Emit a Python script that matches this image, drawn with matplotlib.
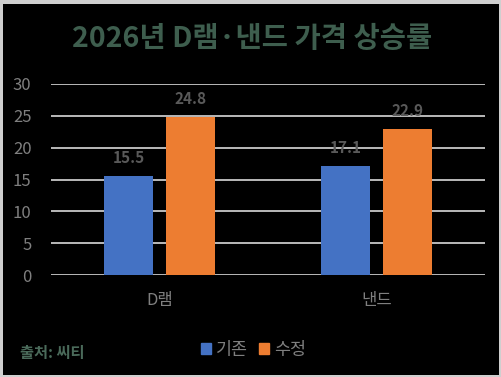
import numpy as np
import matplotlib.pyplot as plt
from matplotlib.patches import Rectangle

plt.rcParams['font.family'] = ['Noto Sans CJK KR', 'DejaVu Sans']

# ── Data ──
categories = ['D램', '낸드']
series_names = ['기존', '수정']
before = [15.5, 17.1]
revised = [24.8, 22.9]
yticks = [0, 5, 10, 15, 20, 25, 30]

blue = '#4472C4'
orange = '#ED7D31'
tick_gray = '#7f7f7f'
label_gray = '#595959'

fig = plt.figure(figsize=(5.02, 3.77), dpi=100, facecolor='#cfcfcf')
fig.patches.append(Rectangle((3 / 502, 2 / 377), 496 / 502, 371 / 377,
                             facecolor='black', edgecolor='none',
                             transform=fig.transFigure, zorder=-10))

ax = fig.add_axes([51 / 502, 1 - 275 / 377, 434 / 502, 191 / 377])
ax.set_facecolor('black')

x = np.arange(len(categories))
w = 0.226
off = 0.143
b1 = ax.bar(x - off, before, w, color=blue, zorder=3)
b2 = ax.bar(x + off, revised, w, color=orange, zorder=3)

for bars, vals in [(b1, before), (b2, revised)]:
    for bar, v in zip(bars, vals):
        ax.annotate(f'{v}', (bar.get_x() + bar.get_width() / 2, v),
                    xytext=(0, 13), textcoords='offset points',
                    ha='center', va='center', fontsize=11,
                    fontweight='bold', color=label_gray, zorder=4)

ax.set_xlim(-0.5, 1.5)
ax.set_ylim(0, 30)
ax.set_yticks(yticks)
ax.set_xticks(x)
ax.set_xticklabels(categories)
ax.grid(axis='y', color='#d9d9d9', linewidth=1.2, zorder=1)
for s in ax.spines.values():
    s.set_visible(False)
ax.tick_params(axis='both', length=0, colors=tick_gray, labelsize=12)
ax.tick_params(axis='y', pad=14)
ax.tick_params(axis='x', pad=12)

fig.text(0.502, 1 - 39 / 377, '2026년 D램·낸드 가격 상승률', ha='center',
         va='center', fontsize=20.5, fontweight='black', color='#3e5e4e')
fig.text(20 / 502, 1 - 353 / 377, '출처: 씨티', ha='left', va='center',
         fontsize=11, fontweight='bold', color='#4a6a5a')

handles = [Rectangle((0, 0), 1, 1, color=blue), Rectangle((0, 0), 1, 1, color=orange)]
leg = fig.legend(handles, series_names, loc='center', bbox_to_anchor=(0.505, 1 - 350 / 377),
                 ncol=2, frameon=False, fontsize=12.5, handlelength=0.6,
                 handleheight=0.6, handletextpad=0.3, columnspacing=0.6)
for t in leg.get_texts():
    t.set_color(tick_gray)

fig.savefig('out.png', dpi=100, facecolor=fig.get_facecolor())
